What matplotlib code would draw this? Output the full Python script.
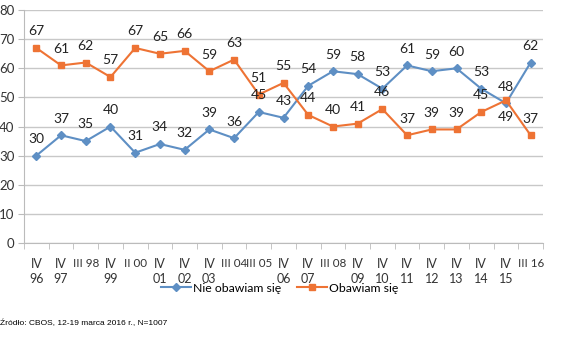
import matplotlib
matplotlib.use("Agg")
import matplotlib.pyplot as plt
import numpy as np

categories = ["IV\n96", "IV\n97", "III 98", "IV\n99", "II 00", "IV\n01", "IV\n02", "IV\n03",
              "III 04", "III 05", "IV\n06", "IV\n07", "III 08", "IV\n09", "IV\n10", "IV\n11",
              "IV\n12", "IV\n13", "IV\n14", "IV\n15", "III 16"]
nie_obawiam = [30, 37, 35, 40, 31, 34, 32, 39, 36, 45, 43, 54, 59, 58, 53, 61, 59, 60, 53, 48, 62]
obawiam = [67, 61, 62, 57, 67, 65, 66, 59, 63, 51, 55, 44, 40, 41, 46, 37, 39, 39, 45, 49, 37]
yticks = [0, 10, 20, 30, 40, 50, 60, 70, 80]
source = "Źródło: CBOS, 12-19 marca 2016 r., N=1007"

plt.rcParams['font.family'] = ['Lato', 'DejaVu Sans']

blue = "#5E8FC4"
orange = "#EE7334"

fig = plt.figure(figsize=(5.71, 3.37), dpi=100)
ax = fig.add_axes([0.042, 0.279, 0.909, 0.691])

x = np.arange(len(categories))
ax.plot(x, nie_obawiam, color=blue, lw=1.5, marker="D", ms=4, label="Nie obawiam się", zorder=3)
ax.plot(x, obawiam, color=orange, lw=1.5, marker="s", ms=4.5, label="Obawiam się", zorder=3)

for i, v in enumerate(nie_obawiam):
    ax.annotate(str(v), (i, v), xytext=(0, 12), textcoords="offset points",
                ha="center", va="center", fontsize=10, color="#222222")
for i, v in enumerate(obawiam):
    off = -12 if i == 19 else 12
    ax.annotate(str(v), (i, v), xytext=(0, off), textcoords="offset points",
                ha="center", va="center", fontsize=10, color="#222222")

ax.set_xlim(-0.5, len(categories) - 0.5)
ax.set_ylim(0, 80)
ax.set_yticks(yticks)
ax.set_yticklabels([str(t) for t in yticks], fontsize=9.5, color="#333333")
ax.yaxis.grid(True, color="#C8C8C8", lw=1)
ax.set_axisbelow(True)
ax.tick_params(axis="y", length=4, color="#BBBBBB", pad=3)

ax.set_xticks(x)
ax.set_xticklabels(categories, fontsize=9, color="#333333", va="top", linespacing=1.25)
for lbl in ax.get_xticklabels():
    if "\n" not in lbl.get_text():
        lbl.set_fontsize(8.4)
ax.tick_params(axis="x", which="major", length=0, pad=11)
ax.set_xticks(np.arange(-0.5, len(categories), 1), minor=True)
ax.tick_params(axis="x", which="minor", length=4, color="#BBBBBB")

for s in ["top", "right"]:
    ax.spines[s].set_visible(False)
for s in ["left", "bottom"]:
    ax.spines[s].set_color("#BBBBBB")

fig.legend(loc="center", bbox_to_anchor=(0.49, 0.145), ncol=2, frameon=False,
           fontsize=8.8, handlelength=2.4, columnspacing=1.3, handletextpad=0.2)

fig.text(0.0, 0.04, source, fontsize=6, family=["Liberation Sans", "DejaVu Sans"], va="center")

fig.savefig("out.png", dpi=100)
